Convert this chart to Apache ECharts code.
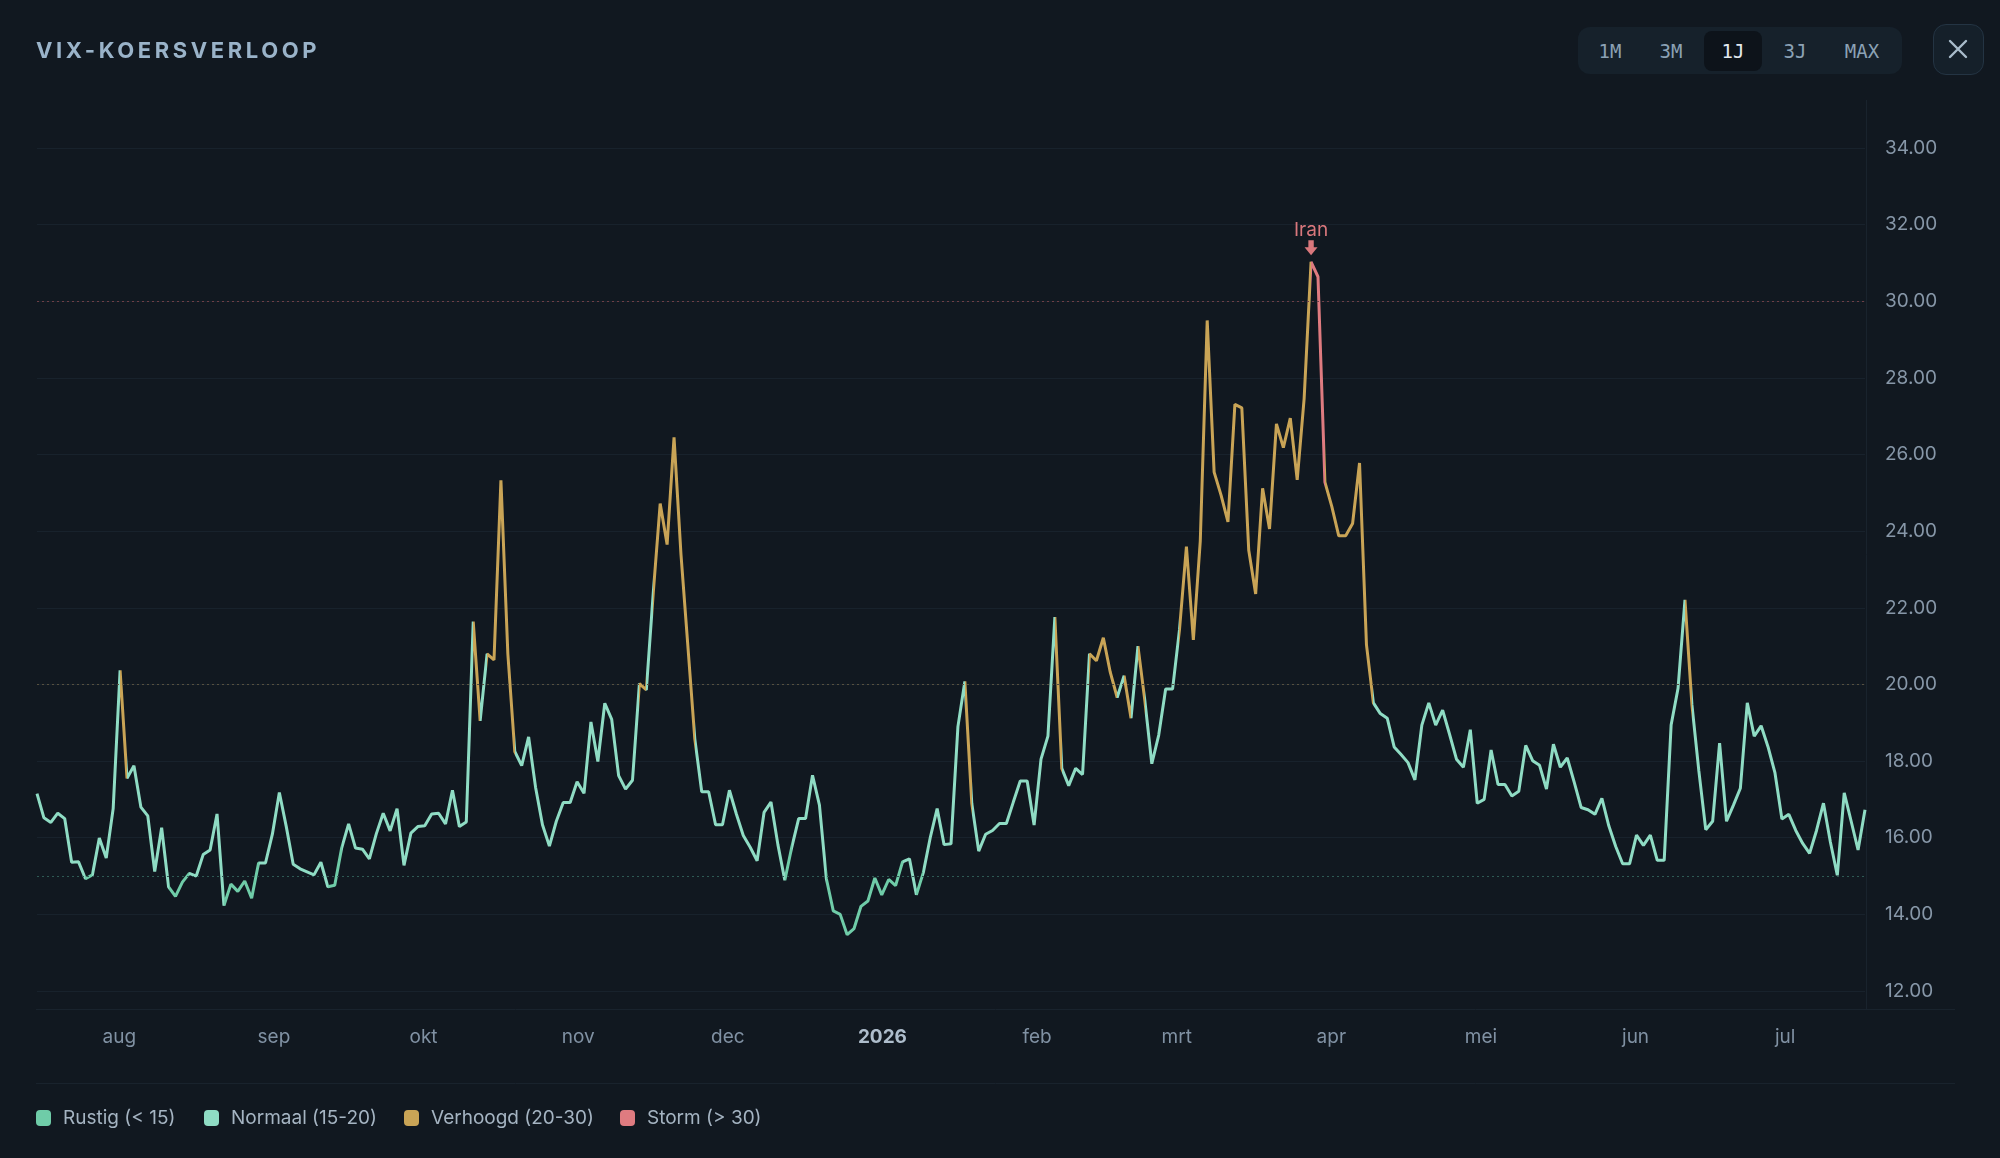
<!DOCTYPE html>
<html>
<head>
<meta charset="utf-8">
<script src="https://cdn.jsdelivr.net/npm/echarts@6/dist/echarts.min.js"></script>
<style>
html, body {
	margin: 0;
	padding: 0;
	width: 2000px;
	height: 1158px;
	background: #111820;
	overflow: hidden;
	font-family: Inter, "Noto Sans", sans-serif;
}
#chart {
	position: absolute;
	left: 0;
	top: 0;
	width: 2000px;
	height: 1158px;
}
.title {
	position: absolute;
	left: 36px;
	top: 37px;
	font-size: 22px;
	font-weight: 700;
	letter-spacing: 3.6px;
	color: #9ab3c9;
	z-index: 5;
}
.ranges {
	position: absolute;
	left: 1578px;
	top: 27px;
	width: 324px;
	height: 47px;
	background: #16212b;
	border-radius: 12px;
	z-index: 5;
}
.ranges span {
	position: absolute;
	top: 4px;
	width: 58px;
	height: 40px;
	line-height: 40px;
	margin-left: -29px;
	text-align: center;
	font-family: "DejaVu Sans Mono", "Liberation Mono", monospace;
	font-size: 19px;
	color: #8ca2b5;
	border-radius: 8px;
}
.ranges span.on {
	background: #0d131a;
	color: #e2e9ef;
}
.close {
	position: absolute;
	left: 1933px;
	top: 24px;
	width: 51px;
	height: 51px;
	box-sizing: border-box;
	border: 1.5px solid #243443;
	background: #15202a;
	border-radius: 13px;
	z-index: 5;
}
.close svg {
	position: absolute;
	left: 14px;
	top: 14px;
}
.legend {
	position: absolute;
	top: 1106px;
	height: 24px;
	line-height: 24px;
	font-size: 19px;
	color: #a5b4c2;
	z-index: 5;
	white-space: nowrap;
}
.legend i {
	position: absolute;
	left: 0;
	top: 4px;
	width: 15px;
	height: 16px;
	border-radius: 4px;
}
.legend b {
	position: absolute;
	font-weight: 400;
}
</style>
</head>
<body>
	<div id="chart"></div>
	<div class="title">VIX-KOERSVERLOOP</div>
	<div class="ranges" id="ranges"></div>
	<div class="close">
		<svg width="20" height="20" viewBox="0 0 20 20"><path d="M2 2 L18 18 M18 2 L2 18" stroke="#a9bccb" stroke-width="2.4" stroke-linecap="round"/></svg>
	</div>
	<div id="legend"></div>
	<script type="text/javascript">
	// VIX-koersen, gelijk verdeeld over de periode startTime..endTime
	var startTime = '2025-07-15T12:00:00Z';
	var endTime = '2026-07-17T00:00:00Z';
	var vixValues = [
		17.15, 16.52, 16.40, 16.64, 16.50, 15.36, 15.37, 14.93, 15.03, 15.99,
		15.47, 16.76, 20.37, 17.55, 17.88, 16.80, 16.57, 15.12, 16.26, 14.72,
		14.47, 14.84, 15.07, 15.00, 15.56, 15.68, 16.62, 14.23, 14.79, 14.60,
		14.87, 14.42, 15.34, 15.34, 16.10, 17.18, 16.29, 15.31, 15.19, 15.11,
		15.03, 15.36, 14.72, 14.76, 15.73, 16.36, 15.73, 15.70, 15.45, 16.10,
		16.64, 16.18, 16.76, 15.28, 16.12, 16.29, 16.31, 16.62, 16.64, 16.36,
		17.24, 16.29, 16.41, 21.64, 19.05, 20.80, 20.64, 25.33, 20.80, 18.25,
		17.88, 18.63, 17.32, 16.34, 15.78, 16.43, 16.92, 16.92, 17.46, 17.16,
		19.02, 17.99, 19.51, 19.09, 17.62, 17.27, 17.50, 20.02, 19.86, 22.39,
		24.72, 23.65, 26.45, 23.40, 21.00, 18.58, 17.20, 17.20, 16.34, 16.34,
		17.24, 16.62, 16.06, 15.75, 15.40, 16.66, 16.93, 15.82, 14.89, 15.75,
		16.50, 16.50, 17.63, 16.85, 14.93, 14.09, 14.00, 13.47, 13.63, 14.21,
		14.35, 14.95, 14.51, 14.91, 14.75, 15.37, 15.45, 14.51, 15.09, 16.00,
		16.76, 15.82, 15.84, 18.90, 20.08, 16.90, 15.65, 16.09, 16.19, 16.37,
		16.37, 16.93, 17.48, 17.48, 16.33, 18.05, 18.65, 21.76, 17.81, 17.36,
		17.81, 17.65, 20.80, 20.62, 21.22, 20.32, 19.66, 20.23, 19.12, 21.00,
		19.57, 17.93, 18.68, 19.88, 19.88, 21.43, 23.60, 21.16, 23.74, 29.50,
		25.54, 24.94, 24.24, 27.31, 27.22, 23.50, 22.36, 25.12, 24.06, 26.80,
		26.18, 26.95, 25.34, 27.46, 31.03, 30.64, 25.28, 24.64, 23.88, 23.88,
		24.20, 25.78, 21.04, 19.52, 19.24, 19.12, 18.37, 18.17, 17.96, 17.51,
		18.94, 19.52, 18.94, 19.33, 18.70, 18.05, 17.84, 18.82, 16.90, 17.00,
		18.29, 17.39, 17.39, 17.09, 17.21, 18.41, 18.01, 17.89, 17.27, 18.44,
		17.84, 18.08, 17.45, 16.79, 16.73, 16.61, 17.03, 16.31, 15.77, 15.32,
		15.32, 16.07, 15.80, 16.07, 15.41, 15.41, 18.94, 19.90, 22.21, 19.48,
		17.75, 16.21, 16.43, 18.47, 16.43, 16.85, 17.29, 19.52, 18.65, 18.92,
		18.37, 17.69, 16.49, 16.61, 16.19, 15.85, 15.59, 16.19, 16.90, 15.89,
		15.02, 17.17, 16.43, 15.68, 16.73
	];
	var monthNames = ['jan', 'feb', 'mrt', 'apr', 'mei', 'jun', 'jul', 'aug', 'sep', 'okt', 'nov', 'dec'];
	var rangeButtons = ['1M', '3M', '1J', '3J', 'MAX'];
	var activeRange = '1J';
	var zoneNames = ['Rustig (< 15)', 'Normaal (15-20)', 'Verhoogd (20-30)', 'Storm (> 30)'];
	var zoneLimits = [15, 20, 30];
	var zoneColors = ['#6fcca8', '#8fdcc4', '#c9a456', '#df7b80'];
	var zoneLineColors = ['#2e5a54', '#57503f', '#6e3f46'];
	var eventIndex = 184;
	var eventLabel = 'Iran';

	var n = vixValues.length;
	var t0 = Date.parse(startTime), t1 = Date.parse(endTime);
	var step = (t1 - t0) / (n - 1);
	var seriesData = vixValues.map(function (v, i) { return [t0 + i * step, v]; });

	function zoneOf(v) {
		for (var k = 0; k < zoneLimits.length; k++) {
			if (v < zoneLimits[k]) return k;
		}
		return zoneLimits.length;
	}

	// elk stuk lijn krijgt de kleur van zijn beginpunt
	var pieces = [];
	var cur = zoneOf(vixValues[0]), s = 0;
	for (var i = 1; i < n - 1; i++) {
		var z = zoneOf(vixValues[i]);
		if (z !== cur) {
			pieces.push({ gte: seriesData[s][0], lt: seriesData[i][0], color: zoneColors[cur] });
			s = i;
			cur = z;
		}
	}
	pieces.push({ gte: seriesData[s][0], lte: seriesData[n - 1][0], color: zoneColors[cur] });

	// knoppen en legenda
	var rangesEl = document.getElementById('ranges');
	var btnCenters = [32, 93, 155, 217, 284];
	rangeButtons.forEach(function (b, k) {
		var el = document.createElement('span');
		el.textContent = b;
		el.style.left = btnCenters[k] + 'px';
		if (b === activeRange) el.className = 'on';
		rangesEl.appendChild(el);
	});
	var legendX = [36, 204, 404, 620];
	var legendEl = document.getElementById('legend');
	zoneNames.forEach(function (name, k) {
		var item = document.createElement('div');
		item.className = 'legend';
		item.style.left = legendX[k] + 'px';
		item.innerHTML = '<i style="background:' + zoneColors[k] + '"></i><b style="left:27px">' + name + '</b>';
		legendEl.appendChild(item);
	});

	var myChart = echarts.init(document.getElementById('chart'));
	var last = vixValues[n - 1];
	var DAY = 86400000;

	var option = {
		backgroundColor: 'transparent',
		animation: false,
		useUTC: true,
		grid: { left: 37, right: 135, top: 148, bottom: 167 },
		xAxis: {
			type: 'time',
			min: t0,
			max: t1,
			minInterval: 28 * DAY,
			maxInterval: 31 * DAY,
			axisLine: { show: false },
			axisTick: { show: false },
			splitLine: { show: false },
			axisLabel: {
				color: '#8091a3',
				fontSize: 19,
				margin: 37,
				fontFamily: 'Inter',
				showMinLabel: false,
				showMaxLabel: false,
				formatter: function (val) {
					var d = new Date(val);
					if (d.getUTCDate() !== 1 || d.getUTCHours() !== 0) return '';
					var m = d.getUTCMonth();
					return m === 0 ? '{y|' + d.getUTCFullYear() + '}' : monthNames[m];
				},
				rich: {
					y: { fontWeight: 700, color: '#aebdcc', fontSize: 19, fontFamily: 'Inter' }
				}
			}
		},
		yAxis: {
			type: 'value',
			position: 'right',
			min: 12,
			max: 34,
			interval: 2,
			axisLine: { show: false },
			axisTick: { show: false },
			splitLine: { lineStyle: { color: '#18222c', width: 1 } },
			axisLabel: {
				color: '#8797a8',
				fontSize: 19,
				margin: 20,
				padding: [4, 0, 0, 0],
				fontFamily: 'Inter',
				formatter: function (v) { return v.toFixed(2); }
			}
		},
		visualMap: {
			type: 'piecewise',
			show: false,
			dimension: 0,
			seriesIndex: 0,
			pieces: pieces,
			outOfRange: { color: zoneColors[1] }
		},
		graphic: [
			{ type: 'line', shape: { x1: 1866.5, y1: 100, x2: 1866.5, y2: 1009 }, style: { stroke: '#19232d', lineWidth: 1 } },
			{ type: 'line', shape: { x1: 36, y1: 1009.5, x2: 1955, y2: 1009.5 }, style: { stroke: '#19232d', lineWidth: 1 } },
			{ type: 'line', shape: { x1: 36, y1: 1083.5, x2: 1955, y2: 1083.5 }, style: { stroke: '#19232d', lineWidth: 1 } }
		],
		series: [
			{
				type: 'line',
				data: seriesData,
				showSymbol: false,
				symbol: 'none',
				lineStyle: { width: 3 },
				z: 4
			},
			{
				type: 'line',
				data: seriesData,
				showSymbol: false,
				symbol: 'none',
				silent: true,
				lineStyle: { opacity: 0 },
				z: 5,
				markLine: {
					silent: true,
					symbol: ['none', 'none'],
					data: zoneLimits.map(function (v, k) {
						return {
							yAxis: v,
							label: { show: false },
							lineStyle: { color: zoneLineColors[k], type: [2, 3], width: 1.2 }
						};
					}).concat([{
						yAxis: last,
						lineStyle: { opacity: 0 },
						label: {
							show: true,
							position: 'end',
							distance: 2,
							formatter: last.toFixed(2),
							backgroundColor: '#8fdcc4',
							color: '#0c1816',
							fontSize: 19,
							fontFamily: 'Inter',
							padding: [5, 12, 3, 15],
							borderRadius: 3
						}
					}])
				},
				markPoint: {
					silent: true,
					data: [{
						coord: seriesData[eventIndex],
						symbol: 'path://M3.5,0 L8.5,0 L8.5,6 L12,6 L6,13 L0,6 L3.5,6 Z',
						symbolSize: [13, 15],
						symbolOffset: [0, -14],
						itemStyle: { color: '#d9777c' },
						label: {
							show: true,
							position: 'top',
							distance: 1,
							formatter: eventLabel,
							color: '#d9777c',
							fontSize: 19,
							fontFamily: 'Inter'
						}
					}]
				}
			}
		]
	};
	myChart.setOption(option);
	</script>
</body>
</html>
